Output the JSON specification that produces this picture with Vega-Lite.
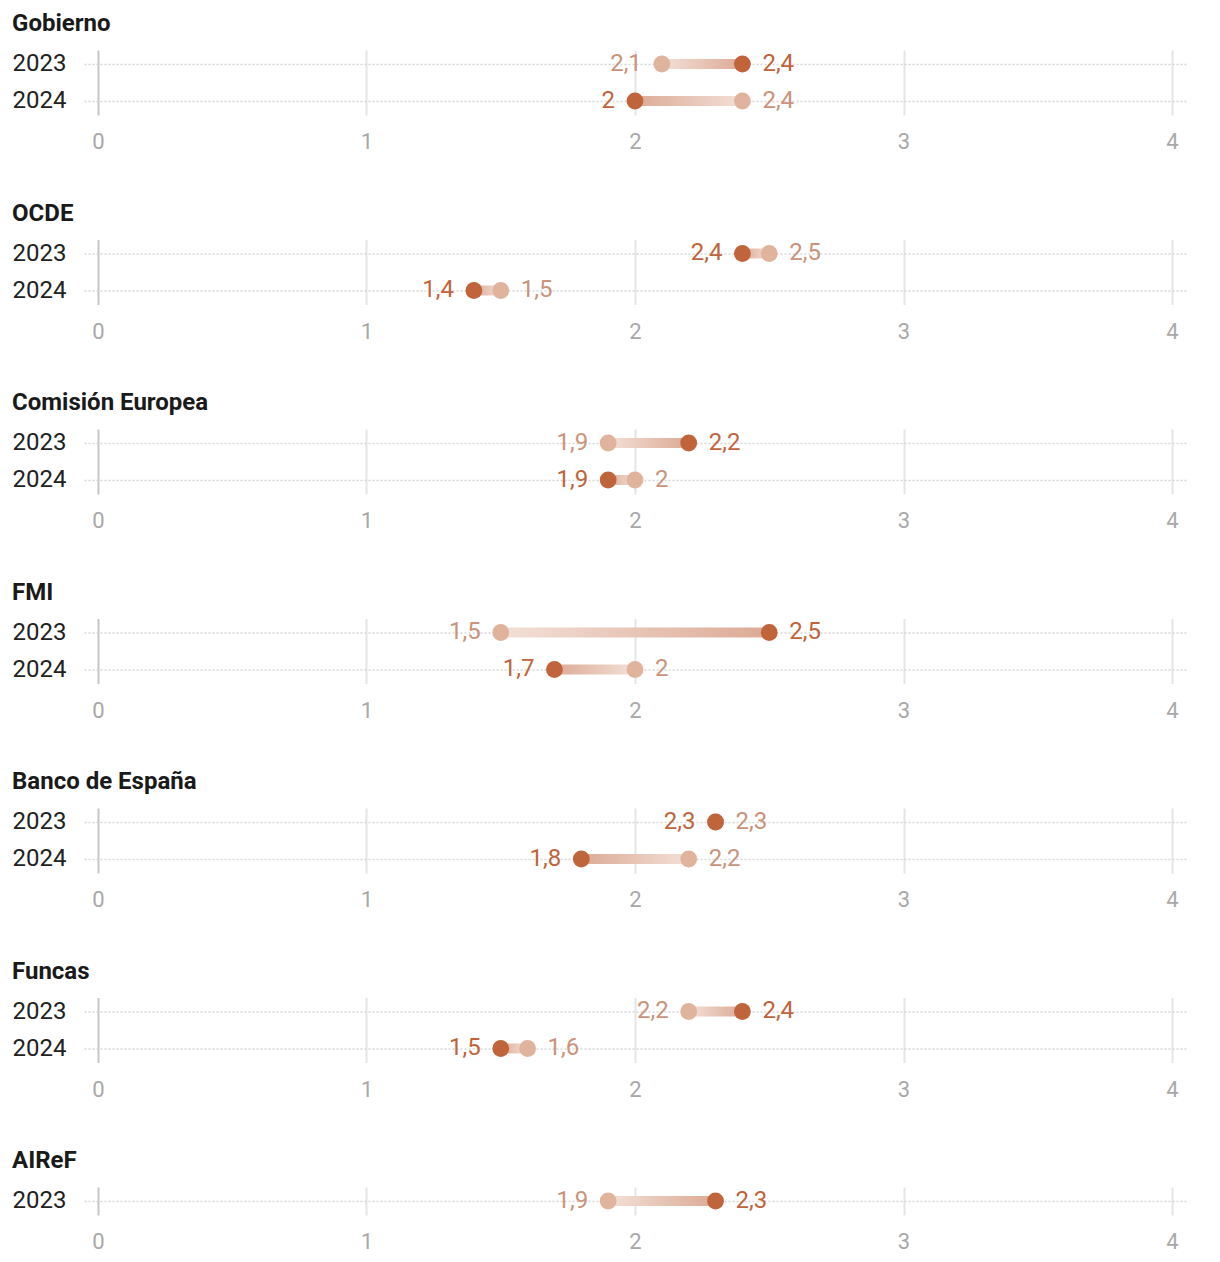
{
  "$schema": "https://vega.github.io/schema/vega-lite/v6.json",
  "background": "white",
  "padding": {"left": 12, "top": 12, "right": 10, "bottom": 5},
  "datasets": {
    "d": [
      {"org": "Gobierno", "year": "2023", "anterior": 2.1, "actual": 2.4},
      {"org": "Gobierno", "year": "2024", "anterior": 2.4, "actual": 2.0},
      {"org": "OCDE", "year": "2023", "anterior": 2.5, "actual": 2.4},
      {"org": "OCDE", "year": "2024", "anterior": 1.5, "actual": 1.4},
      {"org": "Comisión Europea", "year": "2023", "anterior": 1.9, "actual": 2.2},
      {"org": "Comisión Europea", "year": "2024", "anterior": 2.0, "actual": 1.9},
      {"org": "FMI", "year": "2023", "anterior": 1.5, "actual": 2.5},
      {"org": "FMI", "year": "2024", "anterior": 2.0, "actual": 1.7},
      {"org": "Banco de España", "year": "2023", "anterior": 2.3, "actual": 2.3},
      {"org": "Banco de España", "year": "2024", "anterior": 2.2, "actual": 1.8},
      {"org": "Funcas", "year": "2023", "anterior": 2.2, "actual": 2.4},
      {"org": "Funcas", "year": "2024", "anterior": 1.6, "actual": 1.5},
      {"org": "AIReF", "year": "2023", "anterior": 1.9, "actual": 2.3}
    ]
  },
  "data": {"name": "d"},
  "resolve": {"scale": {"y": "independent", "x": "independent"}},
  "vconcat": [
    {
      "title": "Gobierno",
      "width": 1102, "height": {"step": 37},
      "transform": [{"filter": "datum.org === 'Gobierno'"}, {"fold": ["anterior", "actual"], "as": ["serie", "valor"]}],
      "encoding": {
        "y": {"field": "year", "type": "nominal", "scale": {"type": "point", "padding": 0.378}, "axis": {"title": null}},
        "x": {"field": "valor", "type": "quantitative", "scale": {"domain": [-0.0521, 4.0521], "nice": false, "zero": false}, "axis": {"values": [0, 1, 2, 3, 4], "title": null, "gridColor": {"condition": {"test": "datum.value === 0", "value": "#c6c6c6"}, "value": "#e5e5e5"}}}
      },
      "layer": [
        {"transform": [{"filter": "datum.serie === 'anterior' && datum.actual > datum.anterior"}], "mark": {"type": "bar", "height": 10, "fill": {"gradient": "linear", "x1": 0, "x2": 1, "y1": 0, "y2": 0, "stops": [{"offset": 0, "color": "#f3e0d7"}, {"offset": 1, "color": "#dcaa95"}]}}, "encoding": {"x2": {"field": "actual"}}},
        {"transform": [{"filter": "datum.serie === 'anterior' && datum.actual < datum.anterior"}], "mark": {"type": "bar", "height": 10, "fill": {"gradient": "linear", "x1": 0, "x2": 1, "y1": 0, "y2": 0, "stops": [{"offset": 0, "color": "#dcaa95"}, {"offset": 1, "color": "#f3e0d7"}]}}, "encoding": {"x2": {"field": "actual"}}},
        {"mark": {"type": "circle", "size": 283, "opacity": 1}, "encoding": {"color": {"condition": {"test": "datum.serie === 'actual'", "value": "#c0643c"}, "value": "#e0b39d"}}},
        {"transform": [{"filter": "(datum.serie === 'actual' && datum.actual > datum.anterior) || (datum.serie === 'anterior' && datum.anterior >= datum.actual)"}], "mark": {"type": "text", "align": "left", "dx": 20, "fontSize": 24}, "encoding": {"text": {"field": "valor", "type": "quantitative", "format": ".1~f"}, "color": {"condition": {"test": "datum.serie === 'actual'", "value": "#c0643c"}, "value": "#c9937c"}}},
        {"transform": [{"filter": "!((datum.serie === 'actual' && datum.actual > datum.anterior) || (datum.serie === 'anterior' && datum.anterior >= datum.actual))"}], "mark": {"type": "text", "align": "right", "dx": -20, "fontSize": 24}, "encoding": {"text": {"field": "valor", "type": "quantitative", "format": ".1~f"}, "color": {"condition": {"test": "datum.serie === 'actual'", "value": "#c0643c"}, "value": "#c9937c"}}}
      ]
    },
    {
      "title": "OCDE",
      "width": 1102, "height": {"step": 37},
      "transform": [{"filter": "datum.org === 'OCDE'"}, {"fold": ["anterior", "actual"], "as": ["serie", "valor"]}],
      "encoding": {
        "y": {"field": "year", "type": "nominal", "scale": {"type": "point", "padding": 0.378}, "axis": {"title": null}},
        "x": {"field": "valor", "type": "quantitative", "scale": {"domain": [-0.0521, 4.0521], "nice": false, "zero": false}, "axis": {"values": [0, 1, 2, 3, 4], "title": null, "gridColor": {"condition": {"test": "datum.value === 0", "value": "#c6c6c6"}, "value": "#e5e5e5"}}}
      },
      "layer": [
        {"transform": [{"filter": "datum.serie === 'anterior' && datum.actual > datum.anterior"}], "mark": {"type": "bar", "height": 10, "fill": {"gradient": "linear", "x1": 0, "x2": 1, "y1": 0, "y2": 0, "stops": [{"offset": 0, "color": "#f3e0d7"}, {"offset": 1, "color": "#dcaa95"}]}}, "encoding": {"x2": {"field": "actual"}}},
        {"transform": [{"filter": "datum.serie === 'anterior' && datum.actual < datum.anterior"}], "mark": {"type": "bar", "height": 10, "fill": {"gradient": "linear", "x1": 0, "x2": 1, "y1": 0, "y2": 0, "stops": [{"offset": 0, "color": "#dcaa95"}, {"offset": 1, "color": "#f3e0d7"}]}}, "encoding": {"x2": {"field": "actual"}}},
        {"mark": {"type": "circle", "size": 283, "opacity": 1}, "encoding": {"color": {"condition": {"test": "datum.serie === 'actual'", "value": "#c0643c"}, "value": "#e0b39d"}}},
        {"transform": [{"filter": "(datum.serie === 'actual' && datum.actual > datum.anterior) || (datum.serie === 'anterior' && datum.anterior >= datum.actual)"}], "mark": {"type": "text", "align": "left", "dx": 20, "fontSize": 24}, "encoding": {"text": {"field": "valor", "type": "quantitative", "format": ".1~f"}, "color": {"condition": {"test": "datum.serie === 'actual'", "value": "#c0643c"}, "value": "#c9937c"}}},
        {"transform": [{"filter": "!((datum.serie === 'actual' && datum.actual > datum.anterior) || (datum.serie === 'anterior' && datum.anterior >= datum.actual))"}], "mark": {"type": "text", "align": "right", "dx": -20, "fontSize": 24}, "encoding": {"text": {"field": "valor", "type": "quantitative", "format": ".1~f"}, "color": {"condition": {"test": "datum.serie === 'actual'", "value": "#c0643c"}, "value": "#c9937c"}}}
      ]
    },
    {
      "title": "Comisión Europea",
      "width": 1102, "height": {"step": 37},
      "transform": [{"filter": "datum.org === 'Comisión Europea'"}, {"fold": ["anterior", "actual"], "as": ["serie", "valor"]}],
      "encoding": {
        "y": {"field": "year", "type": "nominal", "scale": {"type": "point", "padding": 0.378}, "axis": {"title": null}},
        "x": {"field": "valor", "type": "quantitative", "scale": {"domain": [-0.0521, 4.0521], "nice": false, "zero": false}, "axis": {"values": [0, 1, 2, 3, 4], "title": null, "gridColor": {"condition": {"test": "datum.value === 0", "value": "#c6c6c6"}, "value": "#e5e5e5"}}}
      },
      "layer": [
        {"transform": [{"filter": "datum.serie === 'anterior' && datum.actual > datum.anterior"}], "mark": {"type": "bar", "height": 10, "fill": {"gradient": "linear", "x1": 0, "x2": 1, "y1": 0, "y2": 0, "stops": [{"offset": 0, "color": "#f3e0d7"}, {"offset": 1, "color": "#dcaa95"}]}}, "encoding": {"x2": {"field": "actual"}}},
        {"transform": [{"filter": "datum.serie === 'anterior' && datum.actual < datum.anterior"}], "mark": {"type": "bar", "height": 10, "fill": {"gradient": "linear", "x1": 0, "x2": 1, "y1": 0, "y2": 0, "stops": [{"offset": 0, "color": "#dcaa95"}, {"offset": 1, "color": "#f3e0d7"}]}}, "encoding": {"x2": {"field": "actual"}}},
        {"mark": {"type": "circle", "size": 283, "opacity": 1}, "encoding": {"color": {"condition": {"test": "datum.serie === 'actual'", "value": "#c0643c"}, "value": "#e0b39d"}}},
        {"transform": [{"filter": "(datum.serie === 'actual' && datum.actual > datum.anterior) || (datum.serie === 'anterior' && datum.anterior >= datum.actual)"}], "mark": {"type": "text", "align": "left", "dx": 20, "fontSize": 24}, "encoding": {"text": {"field": "valor", "type": "quantitative", "format": ".1~f"}, "color": {"condition": {"test": "datum.serie === 'actual'", "value": "#c0643c"}, "value": "#c9937c"}}},
        {"transform": [{"filter": "!((datum.serie === 'actual' && datum.actual > datum.anterior) || (datum.serie === 'anterior' && datum.anterior >= datum.actual))"}], "mark": {"type": "text", "align": "right", "dx": -20, "fontSize": 24}, "encoding": {"text": {"field": "valor", "type": "quantitative", "format": ".1~f"}, "color": {"condition": {"test": "datum.serie === 'actual'", "value": "#c0643c"}, "value": "#c9937c"}}}
      ]
    },
    {
      "title": "FMI",
      "width": 1102, "height": {"step": 37},
      "transform": [{"filter": "datum.org === 'FMI'"}, {"fold": ["anterior", "actual"], "as": ["serie", "valor"]}],
      "encoding": {
        "y": {"field": "year", "type": "nominal", "scale": {"type": "point", "padding": 0.378}, "axis": {"title": null}},
        "x": {"field": "valor", "type": "quantitative", "scale": {"domain": [-0.0521, 4.0521], "nice": false, "zero": false}, "axis": {"values": [0, 1, 2, 3, 4], "title": null, "gridColor": {"condition": {"test": "datum.value === 0", "value": "#c6c6c6"}, "value": "#e5e5e5"}}}
      },
      "layer": [
        {"transform": [{"filter": "datum.serie === 'anterior' && datum.actual > datum.anterior"}], "mark": {"type": "bar", "height": 10, "fill": {"gradient": "linear", "x1": 0, "x2": 1, "y1": 0, "y2": 0, "stops": [{"offset": 0, "color": "#f3e0d7"}, {"offset": 1, "color": "#dcaa95"}]}}, "encoding": {"x2": {"field": "actual"}}},
        {"transform": [{"filter": "datum.serie === 'anterior' && datum.actual < datum.anterior"}], "mark": {"type": "bar", "height": 10, "fill": {"gradient": "linear", "x1": 0, "x2": 1, "y1": 0, "y2": 0, "stops": [{"offset": 0, "color": "#dcaa95"}, {"offset": 1, "color": "#f3e0d7"}]}}, "encoding": {"x2": {"field": "actual"}}},
        {"mark": {"type": "circle", "size": 283, "opacity": 1}, "encoding": {"color": {"condition": {"test": "datum.serie === 'actual'", "value": "#c0643c"}, "value": "#e0b39d"}}},
        {"transform": [{"filter": "(datum.serie === 'actual' && datum.actual > datum.anterior) || (datum.serie === 'anterior' && datum.anterior >= datum.actual)"}], "mark": {"type": "text", "align": "left", "dx": 20, "fontSize": 24}, "encoding": {"text": {"field": "valor", "type": "quantitative", "format": ".1~f"}, "color": {"condition": {"test": "datum.serie === 'actual'", "value": "#c0643c"}, "value": "#c9937c"}}},
        {"transform": [{"filter": "!((datum.serie === 'actual' && datum.actual > datum.anterior) || (datum.serie === 'anterior' && datum.anterior >= datum.actual))"}], "mark": {"type": "text", "align": "right", "dx": -20, "fontSize": 24}, "encoding": {"text": {"field": "valor", "type": "quantitative", "format": ".1~f"}, "color": {"condition": {"test": "datum.serie === 'actual'", "value": "#c0643c"}, "value": "#c9937c"}}}
      ]
    },
    {
      "title": "Banco de España",
      "width": 1102, "height": {"step": 37},
      "transform": [{"filter": "datum.org === 'Banco de España'"}, {"fold": ["anterior", "actual"], "as": ["serie", "valor"]}],
      "encoding": {
        "y": {"field": "year", "type": "nominal", "scale": {"type": "point", "padding": 0.378}, "axis": {"title": null}},
        "x": {"field": "valor", "type": "quantitative", "scale": {"domain": [-0.0521, 4.0521], "nice": false, "zero": false}, "axis": {"values": [0, 1, 2, 3, 4], "title": null, "gridColor": {"condition": {"test": "datum.value === 0", "value": "#c6c6c6"}, "value": "#e5e5e5"}}}
      },
      "layer": [
        {"transform": [{"filter": "datum.serie === 'anterior' && datum.actual > datum.anterior"}], "mark": {"type": "bar", "height": 10, "fill": {"gradient": "linear", "x1": 0, "x2": 1, "y1": 0, "y2": 0, "stops": [{"offset": 0, "color": "#f3e0d7"}, {"offset": 1, "color": "#dcaa95"}]}}, "encoding": {"x2": {"field": "actual"}}},
        {"transform": [{"filter": "datum.serie === 'anterior' && datum.actual < datum.anterior"}], "mark": {"type": "bar", "height": 10, "fill": {"gradient": "linear", "x1": 0, "x2": 1, "y1": 0, "y2": 0, "stops": [{"offset": 0, "color": "#dcaa95"}, {"offset": 1, "color": "#f3e0d7"}]}}, "encoding": {"x2": {"field": "actual"}}},
        {"mark": {"type": "circle", "size": 283, "opacity": 1}, "encoding": {"color": {"condition": {"test": "datum.serie === 'actual'", "value": "#c0643c"}, "value": "#e0b39d"}}},
        {"transform": [{"filter": "(datum.serie === 'actual' && datum.actual > datum.anterior) || (datum.serie === 'anterior' && datum.anterior >= datum.actual)"}], "mark": {"type": "text", "align": "left", "dx": 20, "fontSize": 24}, "encoding": {"text": {"field": "valor", "type": "quantitative", "format": ".1~f"}, "color": {"condition": {"test": "datum.serie === 'actual'", "value": "#c0643c"}, "value": "#c9937c"}}},
        {"transform": [{"filter": "!((datum.serie === 'actual' && datum.actual > datum.anterior) || (datum.serie === 'anterior' && datum.anterior >= datum.actual))"}], "mark": {"type": "text", "align": "right", "dx": -20, "fontSize": 24}, "encoding": {"text": {"field": "valor", "type": "quantitative", "format": ".1~f"}, "color": {"condition": {"test": "datum.serie === 'actual'", "value": "#c0643c"}, "value": "#c9937c"}}}
      ]
    },
    {
      "title": "Funcas",
      "width": 1102, "height": {"step": 37},
      "transform": [{"filter": "datum.org === 'Funcas'"}, {"fold": ["anterior", "actual"], "as": ["serie", "valor"]}],
      "encoding": {
        "y": {"field": "year", "type": "nominal", "scale": {"type": "point", "padding": 0.378}, "axis": {"title": null}},
        "x": {"field": "valor", "type": "quantitative", "scale": {"domain": [-0.0521, 4.0521], "nice": false, "zero": false}, "axis": {"values": [0, 1, 2, 3, 4], "title": null, "gridColor": {"condition": {"test": "datum.value === 0", "value": "#c6c6c6"}, "value": "#e5e5e5"}}}
      },
      "layer": [
        {"transform": [{"filter": "datum.serie === 'anterior' && datum.actual > datum.anterior"}], "mark": {"type": "bar", "height": 10, "fill": {"gradient": "linear", "x1": 0, "x2": 1, "y1": 0, "y2": 0, "stops": [{"offset": 0, "color": "#f3e0d7"}, {"offset": 1, "color": "#dcaa95"}]}}, "encoding": {"x2": {"field": "actual"}}},
        {"transform": [{"filter": "datum.serie === 'anterior' && datum.actual < datum.anterior"}], "mark": {"type": "bar", "height": 10, "fill": {"gradient": "linear", "x1": 0, "x2": 1, "y1": 0, "y2": 0, "stops": [{"offset": 0, "color": "#dcaa95"}, {"offset": 1, "color": "#f3e0d7"}]}}, "encoding": {"x2": {"field": "actual"}}},
        {"mark": {"type": "circle", "size": 283, "opacity": 1}, "encoding": {"color": {"condition": {"test": "datum.serie === 'actual'", "value": "#c0643c"}, "value": "#e0b39d"}}},
        {"transform": [{"filter": "(datum.serie === 'actual' && datum.actual > datum.anterior) || (datum.serie === 'anterior' && datum.anterior >= datum.actual)"}], "mark": {"type": "text", "align": "left", "dx": 20, "fontSize": 24}, "encoding": {"text": {"field": "valor", "type": "quantitative", "format": ".1~f"}, "color": {"condition": {"test": "datum.serie === 'actual'", "value": "#c0643c"}, "value": "#c9937c"}}},
        {"transform": [{"filter": "!((datum.serie === 'actual' && datum.actual > datum.anterior) || (datum.serie === 'anterior' && datum.anterior >= datum.actual))"}], "mark": {"type": "text", "align": "right", "dx": -20, "fontSize": 24}, "encoding": {"text": {"field": "valor", "type": "quantitative", "format": ".1~f"}, "color": {"condition": {"test": "datum.serie === 'actual'", "value": "#c0643c"}, "value": "#c9937c"}}}
      ]
    },
    {
      "title": "AIReF",
      "width": 1102, "height": {"step": 37},
      "transform": [{"filter": "datum.org === 'AIReF'"}, {"fold": ["anterior", "actual"], "as": ["serie", "valor"]}],
      "encoding": {
        "y": {"field": "year", "type": "nominal", "scale": {"type": "point", "padding": 0.378}, "axis": {"title": null}},
        "x": {"field": "valor", "type": "quantitative", "scale": {"domain": [-0.0521, 4.0521], "nice": false, "zero": false}, "axis": {"values": [0, 1, 2, 3, 4], "title": null, "gridColor": {"condition": {"test": "datum.value === 0", "value": "#c6c6c6"}, "value": "#e5e5e5"}}}
      },
      "layer": [
        {"transform": [{"filter": "datum.serie === 'anterior' && datum.actual > datum.anterior"}], "mark": {"type": "bar", "height": 10, "fill": {"gradient": "linear", "x1": 0, "x2": 1, "y1": 0, "y2": 0, "stops": [{"offset": 0, "color": "#f3e0d7"}, {"offset": 1, "color": "#dcaa95"}]}}, "encoding": {"x2": {"field": "actual"}}},
        {"transform": [{"filter": "datum.serie === 'anterior' && datum.actual < datum.anterior"}], "mark": {"type": "bar", "height": 10, "fill": {"gradient": "linear", "x1": 0, "x2": 1, "y1": 0, "y2": 0, "stops": [{"offset": 0, "color": "#dcaa95"}, {"offset": 1, "color": "#f3e0d7"}]}}, "encoding": {"x2": {"field": "actual"}}},
        {"mark": {"type": "circle", "size": 283, "opacity": 1}, "encoding": {"color": {"condition": {"test": "datum.serie === 'actual'", "value": "#c0643c"}, "value": "#e0b39d"}}},
        {"transform": [{"filter": "(datum.serie === 'actual' && datum.actual > datum.anterior) || (datum.serie === 'anterior' && datum.anterior >= datum.actual)"}], "mark": {"type": "text", "align": "left", "dx": 20, "fontSize": 24}, "encoding": {"text": {"field": "valor", "type": "quantitative", "format": ".1~f"}, "color": {"condition": {"test": "datum.serie === 'actual'", "value": "#c0643c"}, "value": "#c9937c"}}},
        {"transform": [{"filter": "!((datum.serie === 'actual' && datum.actual > datum.anterior) || (datum.serie === 'anterior' && datum.anterior >= datum.actual))"}], "mark": {"type": "text", "align": "right", "dx": -20, "fontSize": 24}, "encoding": {"text": {"field": "valor", "type": "quantitative", "format": ".1~f"}, "color": {"condition": {"test": "datum.serie === 'actual'", "value": "#c0643c"}, "value": "#c9937c"}}}
      ]
    }
  ],
  "config": {
    "font": "Roboto",
    "view": {"stroke": null},
    "concat": {"spacing": 48.5},
    "title": {"anchor": "start", "frame": "bounds", "fontSize": 24, "fontWeight": "bold", "color": "#1a1a1a", "offset": 14},
    "axisX": {"domain": false, "ticks": false, "labelFontSize": 22, "labelColor": "#a8a8a8", "labelPadding": 17, "gridWidth": 2},
    "axisY": {"domain": false, "ticks": false, "labelFontSize": 24, "labelColor": "#222222", "labelPadding": 18, "grid": true, "gridDash": [2, 2], "gridColor": "#d6d6d6", "gridWidth": 1.5},
    "locale": {"number": {"decimal": ",", "thousands": ".", "grouping": [3], "currency": ["", " €"]}}
  }
}
